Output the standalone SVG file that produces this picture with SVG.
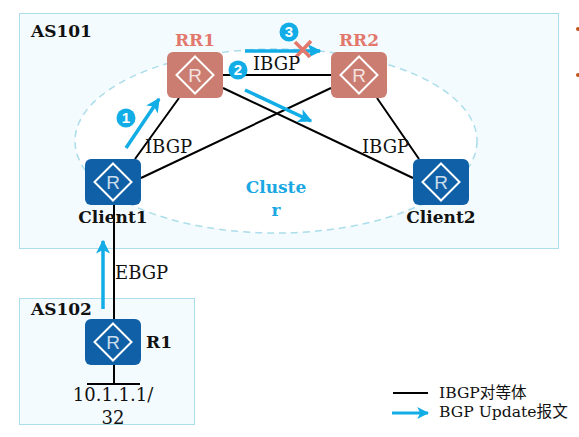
<svg xmlns="http://www.w3.org/2000/svg" width="579" height="437" viewBox="0 0 579 437">
<defs>
<marker id="ah" viewBox="0 0 10 10" refX="9" refY="5" markerWidth="4" markerHeight="4" orient="auto" markerUnits="strokeWidth"><path d="M0 0L10 5L0 10L2.500 5Z" fill="#12ADE6"/></marker>
<g id="r"><path d="M0 -18.500L18.500 0L0 18.500L-18.500 0Z" fill="none" stroke="#fff" stroke-width="2"/><text x="0" y="7" class="rl">R</text></g>
</defs>
<style>
text{font-family:"DejaVu Serif","Noto Sans CJK SC",serif;fill:#111}
.as{fill:#F3FBFE;stroke:#ABDDEA;stroke-width:1}
.b{font-weight:bold;font-size:17px}
.n{font-size:18px}
.m{text-anchor:middle}
.rl{font-family:"Liberation Sans",sans-serif;font-size:19px;text-anchor:middle;fill:#fff;fill-opacity:.8}
.l{stroke:#000;stroke-width:2;fill:none}
.u{stroke:#12ADE6;stroke-width:3.500;fill:none;marker-end:url(#ah)}
.c{fill:#12ADE6}
.ct{font-family:"Liberation Sans",sans-serif;font-weight:bold;font-size:15px;text-anchor:middle;fill:#fff}
.rr{fill:#CC7D72}
.cl{fill:#1060A8}
.lg{font-size:15.600px}
</style>
<g id="as101"><rect x="19.500" y="13.500" width="539" height="235" class="as"/><text x="31" y="37" class="b">AS101</text></g>
<g id="as102"><rect x="19.500" y="298.500" width="175" height="126" class="as"/><text x="31" y="315" class="b">AS102</text></g>
<g id="cluster"><ellipse cx="276" cy="141" rx="201" ry="92" fill="#fff" stroke="#ABDDEA" stroke-width="1.500" stroke-dasharray="7 5"/><text x="276" y="193" class="b m" style="fill:#1AA7E2">Cluste</text><text x="276" y="216" class="b m" style="fill:#1AA7E2">r</text></g>
<g id="connectors">
<path class="l" d="M179 98L135 159M223 75H331M223 88L413 178M331 88L141 178M377 98L419 159M114 205V319M114 365V384M87 384H140"/>
<path class="u" d="M126 148L159 99"/>
<path class="u" d="M245 90L311 121"/>
<path class="u" d="M245 51H320"/>
<path class="u" d="M103 309V241"/>
<path d="M295 42L310 57M311 41L296 57" stroke="#E2776C" stroke-width="3.500" fill="none"/>
</g>
<g id="labels">
<text x="253" y="70" class="n">IBGP</text>
<text x="145" y="153" class="n">IBGP</text>
<text x="362" y="153" class="n">IBGP</text>
<text x="115" y="279" class="n">EBGP</text>
</g>
<g id="RR1"><rect x="167" y="52" width="56" height="46" rx="6" class="rr"/><use href="#r" x="195" y="75"/><text x="195" y="46" class="b m" style="fill:#E2776C">RR1</text></g>
<g id="RR2"><rect x="331" y="52" width="56" height="46" rx="6" class="rr"/><use href="#r" x="359" y="75"/><text x="359" y="46" class="b m" style="fill:#E2776C">RR2</text></g>
<g id="Client1"><rect x="85" y="159" width="56" height="46" rx="6" class="cl"/><use href="#r" x="113" y="182"/><text x="113" y="223" class="b m">Client1</text></g>
<g id="Client2"><rect x="413" y="159" width="56" height="46" rx="6" class="cl"/><use href="#r" x="441" y="182"/><text x="441" y="223" class="b m">Client2</text></g>
<g id="R1"><rect x="85" y="319" width="56" height="46" rx="6" class="cl"/><use href="#r" x="113" y="342"/><text x="146" y="348" class="b">R1</text></g>
<g id="prefix"><text x="113" y="401" class="n m">10.1.1.1/</text><text x="113" y="424" class="n m">32</text></g>
<g id="step1"><circle cx="126" cy="118" r="9.500" class="c"/><text x="126" y="123" class="ct">1</text></g>
<g id="step2"><circle cx="238" cy="70" r="9.500" class="c"/><text x="238" y="75" class="ct">2</text></g>
<g id="step3"><circle cx="289" cy="32" r="9.500" class="c"/><text x="289" y="37" class="ct">3</text></g>
<g id="legend">
<path d="M393 393H428" stroke="#000" stroke-width="2"/>
<path class="u" style="stroke-width:3" d="M392 413H428"/>
<text x="439" y="398" class="lg">IBGP对等体</text>
<text x="439" y="417" class="lg">BGP Update报文</text>
</g>
<g id="bullets"><circle cx="578" cy="29" r="2" fill="#C0561A"/><circle cx="578" cy="75" r="2" fill="#C0561A"/></g>
</svg>
